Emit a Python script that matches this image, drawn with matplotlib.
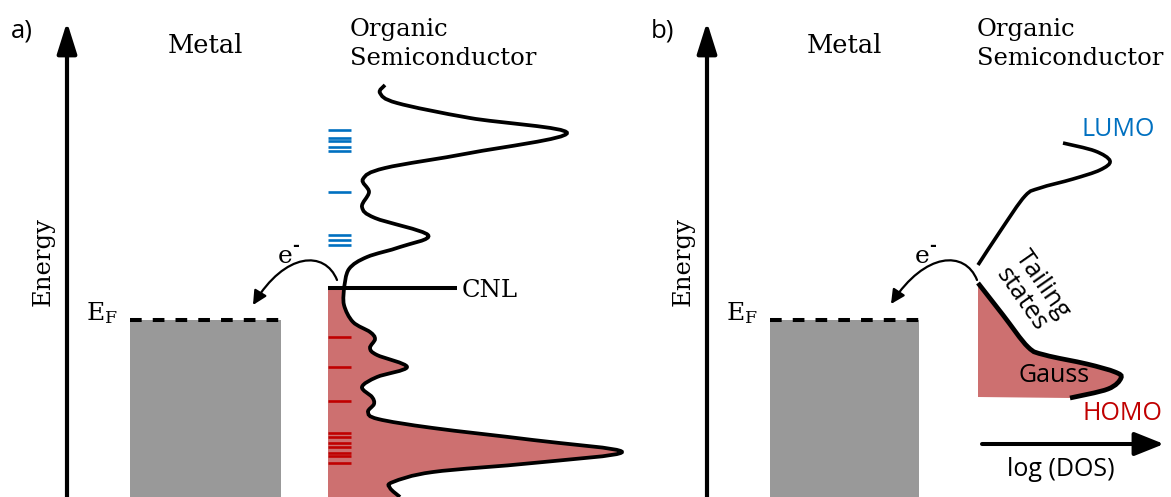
import numpy as np
import matplotlib
matplotlib.use("Agg")
import matplotlib.pyplot as plt
from matplotlib.path import Path
from matplotlib.patches import PathPatch, FancyArrowPatch, Rectangle

plt.rcParams["mathtext.fontset"] = "dejavuserif"

# --- schematic data (pixel coordinates of the reference, y pointing down) ---
# panel a: DOS curve knots above / below the charge neutrality level
dos_a_upper = [(385, 85), (380, 93), (397, 103), (470, 118), (567, 133), (470, 153),
               (385, 168), (363, 179), (369, 192), (362, 207), (375, 218), (428, 235),
               (400, 247), (367, 257), (349, 269), (344, 288)]
dos_a_lower = [(344, 288), (344, 305), (353, 322), (370, 332), (375, 339), (370, 348),
               (377, 355), (407, 367), (377, 377), (362, 387), (372, 397), (374, 404),
               (368, 412), (378, 419), (433, 428), (533, 440), (622, 452), (533, 463),
               (433, 472), (393, 482), (390, 488), (400, 497)]
lumo_levels_a = [130, 138, 141, 146.5, 151, 192, 235, 240, 245]
homo_levels_a = [337, 367, 401, 433, 436.5, 443, 447, 452.5, 455.5, 463]
cnl_y = 288

# panel b: LUMO tail and HOMO (tailing states + Gauss)
dos_b_upper = [(978, 265), (1001, 230), (1025, 196), (1040, 188), (1073, 179),
               (1100, 170), (1110, 161), (1095, 151), (1063, 143)]
dos_b_lower = [(978, 283), (1003, 315), (1028, 347), (1045, 355), (1087, 364),
               (1115, 372), (1121, 378), (1108, 389), (1070, 398)]

ef_y = 320
metal_x = {"a": (130, 281), "b": (770, 919)}
axis_x = {"a": 67, "b": 707}

FILL = "#CD7070"
GRAY = "#999999"
BLUE = "#0070C0"
DRED = "#C00000"
SERIF = "DejaVu Serif"
SANS = "Open Sans"


def smooth(pts):
    """Cubic Bezier segments through the knots (Catmull-Rom tangents)."""
    p = np.asarray(pts, float)
    q = np.vstack([p[0], p, p[-1]])
    verts, codes = [p[0]], [Path.MOVETO]
    for i in range(1, len(q) - 2):
        verts += [q[i] + (q[i + 1] - q[i - 1]) / 6, q[i + 1] - (q[i + 2] - q[i]) / 6, q[i + 1]]
        codes += [Path.CURVE4] * 3
    return verts, codes


fig = plt.figure(figsize=(11.71, 4.97), dpi=100)
ax = fig.add_axes([0, 0, 1, 1])
ax.set_xlim(0, 1171)
ax.set_ylim(497, 0)
ax.axis("off")

for key, label in (("a", "a)"), ("b", "b)")):
    x0 = axis_x[key]
    # energy axis
    ax.annotate("", xy=(x0, 22), xytext=(x0, 500),
                arrowprops=dict(arrowstyle="-|>,head_length=0.95,head_width=0.3",
                                mutation_scale=20, lw=3.0, color="black",
                                shrinkA=0, shrinkB=0))
    ax.text(x0 - 24, 262, "Energy", rotation=90, ha="center", va="center",
            family=SERIF, fontsize=17.5)
    ax.text(x0 - 56, 31, label, ha="left", va="center", family=SANS, fontsize=18.5)
    # metal
    mx0, mx1 = metal_x[key]
    ax.add_patch(Rectangle((mx0, ef_y), mx1 - mx0, 200, color=GRAY, lw=0))
    ax.plot([mx0, mx1], [ef_y, ef_y], color="black", lw=2.9,
            dashes=(2.9, 2.75), solid_capstyle="butt", dash_capstyle="butt")
    ax.text(x0 + 19, ef_y, r"E$_\mathrm{F}$", ha="left", va="baseline",
            family=SERIF, fontsize=18)
    ax.text((mx0 + mx1) / 2, 53, "Metal", ha="center", va="baseline",
            family=SERIF, fontsize=18.5)
    sx = 350 if key == "a" else 977
    ax.text(sx, 36, "Organic", ha="left", va="baseline", family=SERIF, fontsize=17.5)
    ax.text(sx, 65, "Semiconductor", ha="left", va="baseline", family=SERIF, fontsize=17.5)

# --- panel a: DOS with gap states ---
v, c = smooth(dos_a_lower)
v = v + [(328, 497), (328, cnl_y), (344, cnl_y)]
c = c + [Path.LINETO, Path.LINETO, Path.CLOSEPOLY]
ax.add_patch(PathPatch(Path(v, c), facecolor=FILL, edgecolor="none"))

for y in lumo_levels_a:
    ax.plot([328, 351], [y, y], color=BLUE, lw=1.9, solid_capstyle="butt")
for y in homo_levels_a:
    ax.plot([328, 351], [y, y], color=DRED, lw=1.9, solid_capstyle="butt")

ax.plot([328, 457], [cnl_y, cnl_y], color="black", lw=2.9, solid_capstyle="butt")
ax.text(462, 297, "CNL", ha="left", va="baseline", family=SERIF, fontsize=17.5)

for knots in (dos_a_upper, dos_a_lower):
    v, c = smooth(knots)
    ax.add_patch(PathPatch(Path(v, c), facecolor="none", edgecolor="black",
                           lw=2.7, capstyle="butt"))

# electron transfer arrows
for (p0, p1, p2, p3), ex in ((((337, 280), (325, 250), (285, 252), (253, 305)), 278),
                             (((977, 280), (965, 250), (925, 252), (891, 304)), 915)):
    arc = Path([p0, p1, p2, p3], [Path.MOVETO, Path.CURVE4, Path.CURVE4, Path.CURVE4])
    ax.add_patch(FancyArrowPatch(path=arc, arrowstyle="-|>,head_length=0.6,head_width=0.3",
                                 mutation_scale=14, lw=1.6, color="black"))
    ax.text(ex, 263, "e", ha="left", va="baseline", family=SERIF, fontsize=18)
    ax.text(ex + 14, 250, "-", ha="left", va="baseline", family=SERIF, fontsize=12,
            fontweight="bold")

# --- panel b: tailing states + Gaussian HOMO ---
v, c = smooth(dos_b_lower)
v = v + [(978, 397), (978, 283)]
c = c + [Path.LINETO, Path.CLOSEPOLY]
ax.add_patch(PathPatch(Path(v, c), facecolor=FILL, edgecolor="none"))

v, c = smooth(dos_b_upper)
ax.add_patch(PathPatch(Path(v, c), facecolor="none", edgecolor="black", lw=2.6,
                       capstyle="butt"))
v, c = smooth(dos_b_lower)
ax.add_patch(PathPatch(Path(v, c), facecolor="none", edgecolor="black", lw=3.4,
                       capstyle="butt"))

ax.text(1118, 129, "LUMO", ha="center", va="center", family=SANS, fontsize=18, color=BLUE)
ax.text(1122, 414, "HOMO", ha="center", va="center", family=SANS, fontsize=18, color=DRED)
ax.text(1054, 376, "Gauss", ha="center", va="center", family=SANS, fontsize=18)
ax.text(1032, 292, "Tailing\nstates", ha="center", va="center", rotation=-55,
        rotation_mode="anchor", family=SANS, fontsize=18.5, linespacing=1.05)

ax.annotate("", xy=(1164, 444), xytext=(982, 444),
            arrowprops=dict(arrowstyle="-|>,head_length=0.9,head_width=0.36",
                            mutation_scale=20, lw=2.9, color="black",
                            shrinkA=0, shrinkB=0))
ax.text(1061, 470, "log (DOS)", ha="center", va="center", family=SANS, fontsize=18)

fig.savefig("out.png", dpi=100)
